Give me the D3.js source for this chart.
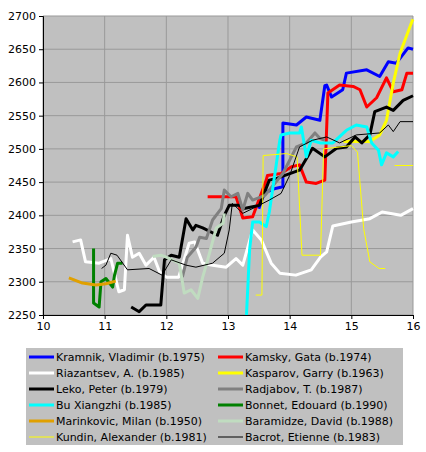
<!DOCTYPE html>
<html><head><meta charset="utf-8">
<script src="https://cdn.jsdelivr.net/npm/d3@7"></script>
<style>body{margin:0;background:#fff}text{font-family:"DejaVu Sans",Verdana,sans-serif;font-size:11px}</style>
</head><body><svg id="c" width="426" height="452"></svg>
<script>
// player series: [age, rating]
var kramnik = [[13.5,2410],[13.59,2434],[13.75,2440],[13.89,2443],[13.89,2539],[14.11,2536],[14.27,2548],[14.49,2543],[14.57,2595],[14.6,2596],[14.68,2578],[14.86,2589],[14.92,2614],[15.25,2619],[15.46,2609],[15.6,2631],[15.73,2629],[15.92,2652],[16,2650]];
var kamsky = [[12.67,2428],[13.13,2428],[13.24,2396],[13.4,2398],[13.62,2453],[13.64,2460],[13.86,2463],[14.03,2473],[14.16,2476],[14.27,2450],[14.43,2448],[14.57,2453],[14.62,2584],[14.81,2596],[15.03,2594],[15.14,2589],[15.25,2563],[15.41,2577],[15.57,2607],[15.68,2586],[15.82,2589],[15.9,2614],[16,2614]];
var riazantsev = [[10.48,2360],[10.61,2363],[10.69,2330],[10.91,2328],[11.1,2335],[11.23,2285],[11.32,2288],[11.37,2370],[11.45,2337],[11.56,2343],[11.67,2325],[11.8,2337],[11.89,2315],[12,2307],[12.2,2307],[12.37,2358],[12.46,2360],[12.59,2328],[12.75,2325],[12.97,2322],[13.13,2335],[13.24,2325],[13.4,2378],[13.54,2363],[13.7,2328],[13.84,2313],[14.1,2310],[14.35,2318],[14.5,2337],[14.6,2345],[14.7,2384],[15.0,2390],[15.3,2395],[15.5,2405],[15.8,2400],[16,2410]];
var kasparov = [[14.87,2511],[15.3,2511],[15.46,2521],[15.57,2543],[15.68,2599],[15.79,2644],[15.98,2691],[16,2695]];
var leko = [[11.43,2262],[11.56,2255],[11.67,2265],[11.91,2265],[11.97,2333],[12.08,2340],[12.21,2337],[12.32,2395],[12.43,2378],[12.48,2385],[12.59,2381],[12.83,2370],[12.94,2400],[13.02,2415],[13.19,2415],[13.24,2410],[13.4,2413],[13.51,2415],[13.67,2453],[13.8,2456],[14.16,2468],[14.37,2501],[14.57,2488],[14.76,2501],[14.92,2503],[15.06,2518],[15.17,2509],[15.3,2521],[15.38,2556],[15.57,2563],[15.68,2558],[15.84,2573],[16,2580]];
var radjabov = [[12.26,2307],[12.34,2337],[12.48,2352],[12.54,2367],[12.65,2365],[12.75,2393],[12.89,2410],[12.94,2438],[13.05,2428],[13.16,2433],[13.24,2408],[13.32,2433],[13.4,2423],[13.6,2430],[13.89,2463],[14.11,2503],[14.27,2509],[14.41,2524],[14.49,2516],[14.57,2513]];
var bu = [[13.3,2250],[13.35,2348],[13.4,2390],[13.51,2390],[13.62,2383],[13.67,2405],[13.84,2513],[13.86,2521],[14,2524],[14.16,2524],[14.19,2533],[14.27,2488],[14.35,2513],[14.49,2509],[14.7,2509],[14.92,2528],[15.08,2536],[15.25,2533],[15.33,2509],[15.44,2498],[15.49,2476],[15.57,2494],[15.68,2488],[15.76,2496]];
var bonnet = [[10.82,2350],[10.82,2268],[10.91,2262],[10.94,2300],[11.02,2305],[11.13,2292],[11.16,2310],[11.21,2328],[11.29,2328]];
var marinkovic = [[10.42,2306],[10.64,2298],[10.86,2295],[11.02,2297],[11.18,2301]];
var baramidze = [[11.78,2338],[11.91,2340],[12.0,2337],[12.21,2328],[12.29,2283],[12.4,2288],[12.51,2275],[12.59,2307],[12.67,2333],[12.81,2381],[12.92,2388],[12.94,2403]];
var kundin = [[13.45,2280],[13.55,2280],[13.57,2490],[13.95,2493],[14.12,2488],[14.2,2340],[14.5,2340],[14.55,2500],[15.0,2505],[15.1,2495],[15.2,2380],[15.3,2330],[15.45,2320],[15.55,2320],null,[15.7,2475],[16,2475]];
var bacrot = [[10.95,2320],[11.02,2325],[11.1,2343],[11.2,2340],[11.37,2318],[11.72,2320],[11.93,2310],[12.08,2333],[12.32,2325],[12.48,2322],[12.75,2328],[12.94,2343],[13.02,2378],[13.07,2418],[13.24,2403],[13.46,2413],[13.67,2423],[13.86,2433],[14,2460],[14.16,2503],[14.37,2513],[14.6,2518],[14.81,2509],[15.08,2521],[15.46,2524],[15.6,2536],[15.68,2526],[15.79,2541],[16,2541]];

var names = ["Kramnik, Vladimir (b.1975)","Kamsky, Gata (b.1974)","Riazantsev, A. (b.1985)","Kasparov, Garry (b.1963)","Leko, Peter (b.1979)","Radjabov, T. (b.1987)","Bu Xiangzhi (b.1985)","Bonnet, Edouard (b.1990)","Marinkovic, Milan (b.1950)","Baramidze, David (b.1988)","Kundin, Alexander (b.1981)","Bacrot, Etienne (b.1983)"];
var colors = ["#0000ff","#ff0000","#ffffff","#ffff00","#000000","#808080","#00ffff","#008000","#e0a000","#c0dcc0","#ffff00","#000000"];
var widths = [3,3,3,3,3,3,3,3,3,3,1,1];
var series = [kramnik,kamsky,riazantsev,kasparov,leko,radjabov,bu,bonnet,marinkovic,baramidze,kundin,bacrot];
var xTicks = [10,11,12,13,14,15,16];
var yTicks = [2250,2300,2350,2400,2450,2500,2550,2600,2650,2700];

var svg = d3.select("#c");
var x = d3.scaleLinear().domain([10,16]).range([43,413]);
var y = d3.scaleLinear().domain([2250,2700]).range([315,16]);

svg.append("rect").attr("x",43).attr("y",16).attr("width",370).attr("height",299).attr("fill","#c0c0c0");

// gridlines
svg.selectAll(".gx").data(xTicks).join("line").attr("x1",d=>x(d)).attr("x2",d=>x(d)).attr("y1",16).attr("y2",315).attr("stroke","#999");
svg.selectAll(".gy").data(yTicks).join("line").attr("x1",43).attr("x2",413).attr("y1",d=>y(d)).attr("y2",d=>y(d)).attr("stroke","#999");

var line = d3.line().defined(d=>d!=null).x(d=>x(d[0])).y(d=>y(d[1]));
// draw thin ones on top? keep order like original (first drawn underneath)
series.forEach((s,i) => {
  svg.append("path").datum(s).attr("d",line).attr("fill","none")
    .attr("stroke",colors[i]).attr("stroke-width",widths[i]).attr("stroke-linejoin","round");
});

// axes
svg.append("g").attr("transform","translate(0,315)").call(d3.axisBottom(x).tickValues(xTicks).tickSize(4).tickFormat(d3.format("d")))
  .call(g=>{g.select(".domain").attr("stroke","#000");g.selectAll("text").attr("font-size",11);});
svg.append("g").attr("transform","translate(43,0)").call(d3.axisLeft(y).tickValues(yTicks).tickSize(4).tickFormat(d3.format("d")))
  .call(g=>{g.select(".domain").attr("stroke","#000");g.selectAll("text").attr("font-size",11);});

// legend
svg.append("rect").attr("x",26).attr("y",348).attr("width",377).attr("height",97).attr("fill","#c0c0c0");
names.forEach((n,i) => {
  var col = i%2, row = Math.floor(i/2);
  var lx = col ? 218 : 29, ly = 357 + row*16;
  svg.append("line").attr("x1",lx).attr("x2",lx+25).attr("y1",ly).attr("y2",ly)
    .attr("stroke",colors[i]).attr("stroke-width",widths[i]);
  svg.append("text").attr("x",lx+27).attr("y",ly+4).attr("font-size",11.5).text(n);
});
</script></body></html>
